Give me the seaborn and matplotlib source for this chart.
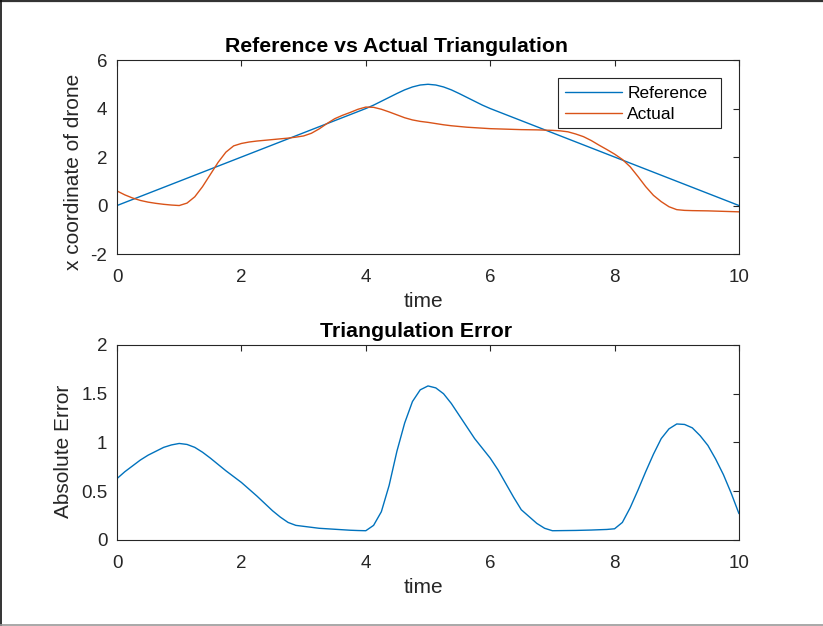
import numpy as np
import pandas as pd
import matplotlib
matplotlib.use("Agg")
import matplotlib.pyplot as plt
from matplotlib.lines import Line2D
from matplotlib.patches import Rectangle
import seaborn as sns

# ---------------- data (every 0.125 s) ----------------
t = np.arange(0, 10.0001, 0.125).round(3).tolist()

reference = [0, 0.125, 0.25, 0.375, 0.5, 0.625, 0.75, 0.875,
             1, 1.125, 1.25, 1.375, 1.5, 1.625, 1.75, 1.875,
             2, 2.125, 2.25, 2.375, 2.5, 2.625, 2.75, 2.875,
             3, 3.125, 3.25, 3.375, 3.5, 3.625, 3.75, 3.875,
             4, 4.14, 4.30, 4.46, 4.62, 4.77, 4.89, 4.97,
             5, 4.97, 4.89, 4.77, 4.62, 4.46, 4.30, 4.14,
             4, 3.875, 3.75, 3.625, 3.5, 3.375, 3.25, 3.125,
             3, 2.875, 2.75, 2.625, 2.5, 2.375, 2.25, 2.125,
             2, 1.875, 1.75, 1.625, 1.5, 1.375, 1.25, 1.125,
             1, 0.875, 0.75, 0.625, 0.5, 0.375, 0.25, 0.125,
             0]

actual = [0.60, 0.44, 0.31, 0.21, 0.14, 0.09, 0.05, 0.02,
          0.00, 0.10, 0.36, 0.78, 1.28, 1.78, 2.20, 2.46,
          2.56, 2.62, 2.66, 2.69, 2.72, 2.75, 2.78, 2.82,
          2.87, 2.98, 3.16, 3.38, 3.58, 3.72, 3.84, 3.97,
          4.06, 4.05, 3.97, 3.86, 3.74, 3.62, 3.53, 3.47,
          3.43, 3.38, 3.33, 3.29, 3.26, 3.23, 3.21, 3.19,
          3.17, 3.16, 3.15, 3.14, 3.13, 3.125, 3.12, 3.11,
          3.10, 3.08, 3.04, 2.95, 2.84, 2.68, 2.49, 2.31,
          2.12, 1.90, 1.60, 1.20, 0.78, 0.42, 0.16, -0.05,
          -0.17, -0.20, -0.21, -0.215, -0.22, -0.23, -0.24, -0.25,
          -0.26]

t_err = [0] + t
abs_error = [0.0,
             0.63, 0.70, 0.76, 0.82, 0.87, 0.91, 0.95, 0.975,
             0.99, 0.98, 0.95, 0.90, 0.84, 0.775, 0.71, 0.65,
             0.59, 0.52, 0.45, 0.375, 0.30, 0.235, 0.18, 0.15,
             0.14, 0.13, 0.12, 0.115, 0.11, 0.105, 0.10, 0.097,
             0.095, 0.15, 0.29, 0.56, 0.91, 1.20, 1.42, 1.54,
             1.58, 1.56, 1.50, 1.40, 1.28, 1.16, 1.04, 0.94,
             0.84, 0.72, 0.58, 0.44, 0.31, 0.24, 0.17, 0.12,
             0.095, 0.096, 0.097, 0.098, 0.10, 0.102, 0.105, 0.108,
             0.115, 0.18, 0.33, 0.51, 0.70, 0.88, 1.04, 1.14,
             1.19, 1.185, 1.15, 1.07, 0.97, 0.83, 0.67, 0.48,
             0.27]

x_ticks = [0, 2, 4, 6, 8, 10]
top_yticks = [-2, 0, 2, 4, 6]
bot_yticks = [0, 0.5, 1, 1.5, 2]
bot_yticklabels = ["0", "0.5", "1", "1.5", "2"]

# ---------------- style ----------------
sns.set_theme(style="white")
plt.rcParams['font.family'] = ['Liberation Sans', 'DejaVu Sans']
plt.rcParams['axes.unicode_minus'] = False
plt.rcParams['axes.edgecolor'] = '#262626'
plt.rcParams['axes.linewidth'] = 0.8

BLUE = '#0072BD'
ORANGE = '#D95319'
FS = 13.5
LFS = 15
TFS = 15.3
TXT = '#262626'

fig = plt.figure(figsize=(8.23, 6.26), dpi=100)
ax1 = fig.add_axes([0.1422, 0.5942, 0.7557, 0.3099])
ax2 = fig.add_axes([0.1422, 0.1374, 0.7557, 0.3115])

df_top = pd.DataFrame({"time": t, "Reference": reference, "Actual": actual})
sns.lineplot(data=df_top, x="time", y="Reference", ax=ax1, color=BLUE, lw=1.0, label="Reference")
sns.lineplot(data=df_top, x="time", y="Actual", ax=ax1, color=ORANGE, lw=1.0, label="Actual")

df_err = pd.DataFrame({"time": t_err, "err": abs_error})
sns.lineplot(data=df_err, x="time", y="err", ax=ax2, color=BLUE, lw=1.0, sort=False, estimator=None)


def style_axes(ax):
    ax.set_xlim(0, 10)
    ax.set_xticks(x_ticks)
    ax.tick_params(direction='in', length=4, width=0.8, top=True, right=True,
                   labelsize=FS, colors=TXT)
    ax.tick_params(axis='x', pad=11)
    ax.tick_params(axis='y', pad=7)
    for s in ax.spines.values():
        s.set_visible(True)
        s.set_color(TXT)
        s.set_linewidth(0.8)


style_axes(ax1)
ax1.set_ylim(-2, 6)
ax1.set_yticks(top_yticks)
ax1.set_title("Reference vs Actual Triangulation", fontsize=TFS, fontweight='bold',
              pad=6, color='black', x=0.45)
ax1.set_xlabel("time", fontsize=LFS, color=TXT)
ax1.xaxis.set_label_coords(0.492, -0.195)
ax1.set_ylabel("x coordinate of drone", fontsize=LFS, color=TXT)
ax1.yaxis.set_label_coords(-0.055, 0.423)
leg = ax1.legend(loc='center left', bbox_to_anchor=(0.720, 0.773), borderaxespad=0,
                 fontsize=12.5, frameon=False, handlelength=3.3,
                 handletextpad=0.3, borderpad=0.0, labelspacing=0.33)
for txt in leg.get_texts():
    txt.set_color('black')
ax1.add_patch(Rectangle((0.709, 0.649), 0.262, 0.258, transform=ax1.transAxes,
                        fill=False, edgecolor=TXT, lw=0.8, zorder=5))

style_axes(ax2)
ax2.set_ylim(0, 2)
ax2.set_yticks(bot_yticks)
ax2.set_yticklabels(bot_yticklabels)
ax2.set_title("Triangulation Error", fontsize=TFS, fontweight='bold', pad=6, color='black', x=0.481)
ax2.set_xlabel("time", fontsize=LFS, color=TXT)
ax2.xaxis.set_label_coords(0.492, -0.195)
ax2.set_ylabel("Absolute Error", fontsize=LFS, color=TXT)
ax2.yaxis.set_label_coords(-0.071, 0.454)

# figure frame edges (top, left, bottom) as in the screenshot
fig.add_artist(Line2D([0, 1], [0.998, 0.998], transform=fig.transFigure, color='#333333', lw=1.6))
fig.add_artist(Line2D([0.001, 0.001], [0, 1], transform=fig.transFigure, color='#111111', lw=1.2))
fig.add_artist(Line2D([0, 1], [0.001, 0.001], transform=fig.transFigure, color='#999999', lw=1.2))

fig.savefig("out.png", dpi=100, facecolor='white')
